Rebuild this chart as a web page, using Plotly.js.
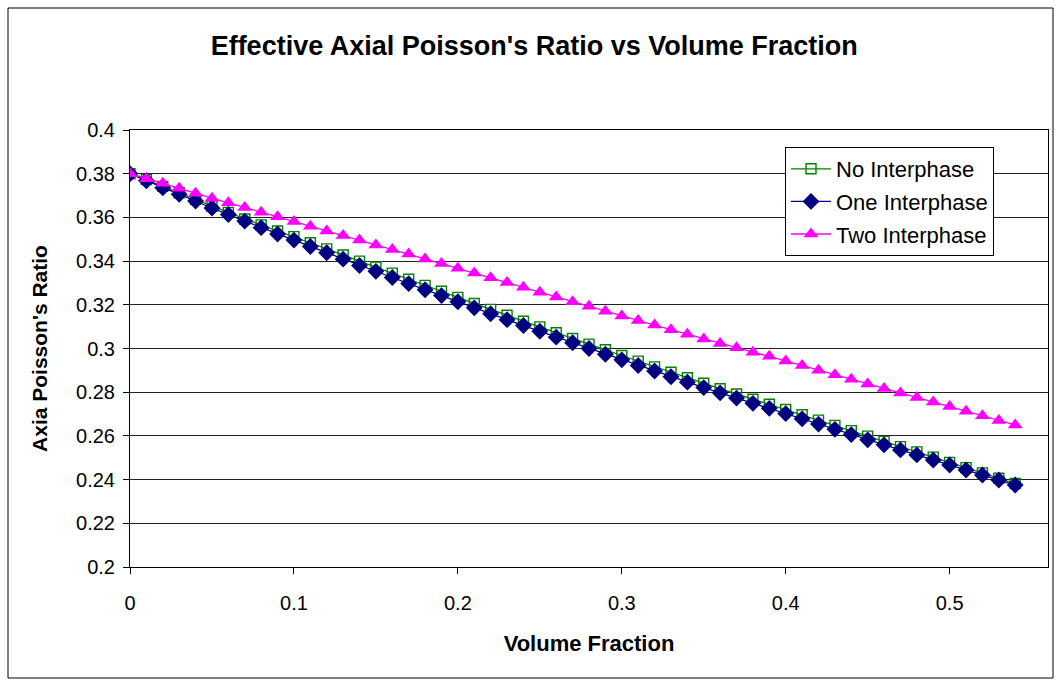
<!DOCTYPE html>
<html>
<head>
<meta charset="utf-8">
<script src="https://cdn.plot.ly/plotly-3.0.1.min.js"></script>
<style>html,body{margin:0;padding:0;background:#fff;}#chart{width:1062px;height:683px;}</style>
</head>
<body>
<div id="chart"></div>
<script>
const volumeFraction = [0,0.01,0.02,0.03,0.04,0.05,0.06,0.07,0.08,0.09,0.10,0.11,0.12,0.13,0.14,0.15,0.16,0.17,0.18,0.19,0.20,0.21,0.22,0.23,0.24,0.25,0.26,0.27,0.28,0.29,0.30,0.31,0.32,0.33,0.34,0.35,0.36,0.37,0.38,0.39,0.40,0.41,0.42,0.43,0.44,0.45,0.46,0.47,0.48,0.49,0.50,0.51,0.52,0.53,0.54];

const noInterphase = [0.3800,0.3773,0.3742,0.3713,0.3683,0.3652,0.3623,0.3593,0.3566,0.3538,0.3512,0.3484,0.3456,0.3428,0.3400,0.3373,0.3345,0.3317,0.3289,0.3262,0.3234,0.3206,0.3179,0.3152,0.3125,0.3099,0.3072,0.3046,0.3020,0.2994,0.2968,0.2942,0.2916,0.2891,0.2866,0.2841,0.2816,0.2792,0.2768,0.2745,0.2721,0.2697,0.2672,0.2648,0.2624,0.2599,0.2575,0.2551,0.2527,0.2503,0.2479,0.2455,0.2431,0.2406,0.2382];

const oneInterphase = [0.3800,0.3768,0.3736,0.3706,0.3675,0.3643,0.3613,0.3583,0.3553,0.3524,0.3496,0.3467,0.3438,0.3409,0.3380,0.3353,0.3325,0.3297,0.3269,0.3242,0.3214,0.3186,0.3159,0.3132,0.3105,0.3079,0.3052,0.3026,0.3000,0.2974,0.2948,0.2922,0.2897,0.2871,0.2846,0.2821,0.2797,0.2773,0.2749,0.2726,0.2702,0.2678,0.2654,0.2630,0.2606,0.2582,0.2559,0.2536,0.2513,0.2490,0.2467,0.2444,0.2421,0.2398,0.2375];

const twoInterphase = [0.3800,0.3777,0.3756,0.3733,0.3711,0.3688,0.3667,0.3645,0.3624,0.3603,0.3581,0.3560,0.3538,0.3517,0.3496,0.3474,0.3453,0.3432,0.3410,0.3389,0.3367,0.3345,0.3324,0.3302,0.3280,0.3258,0.3236,0.3214,0.3193,0.3171,0.3149,0.3128,0.3107,0.3086,0.3065,0.3044,0.3023,0.3003,0.2983,0.2964,0.2943,0.2922,0.2901,0.2880,0.2859,0.2838,0.2817,0.2796,0.2776,0.2755,0.2734,0.2713,0.2692,0.2671,0.2650];

const seriesNames = ["No Interphase", "One Interphase", "Two Interphase"];
const xTickVals = [0, 0.1, 0.2, 0.3, 0.4, 0.5];
const xTickText = ["0", "0.1", "0.2", "0.3", "0.4", "0.5"];
const yTickVals = [0.2, 0.22, 0.24, 0.26, 0.28, 0.3, 0.32, 0.34, 0.36, 0.38, 0.4];
const yTickText = ["0.2", "0.22", "0.24", "0.26", "0.28", "0.3", "0.32", "0.34", "0.36", "0.38", "0.4"];

const FONT = "Liberation Sans, Arial, sans-serif";

const traces = [
  {x: volumeFraction, y: noInterphase, name: seriesNames[0], type: "scatter", mode: "lines+markers",
   legendgroup: "a",
   line: {color: "#008000", width: 1.3},
   marker: {symbol: "square-open", size: 10, color: "#008000", line: {width: 1.4, color: "#008000"}}},
  {x: volumeFraction, y: oneInterphase, name: seriesNames[1], type: "scatter", mode: "lines+markers",
   legendgroup: "b",
   line: {color: "#000080", width: 1.3},
   marker: {symbol: "diamond", size: 13, color: "#000080"}},
  {x: volumeFraction, y: twoInterphase, name: seriesNames[2], type: "scatter", mode: "lines+markers",
   legendgroup: "c",
   line: {color: "#FF00FF", width: 1.3},
   marker: {symbol: "triangle-up", size: 13, color: "#FF00FF"}}
];

const layout = {
  width: 1062, height: 683,
  paper_bgcolor: "#ffffff", plot_bgcolor: "#ffffff",
  margin: {l: 130, r: 14, t: 130, b: 116},
  font: {family: FONT, color: "#000", size: 20},
  title: {text: "<b>Effective Axial Poisson's Ratio vs Volume Fraction</b>",
          font: {family: FONT, size: 27, color: "#000"},
          x: 0.503, xanchor: "center", y: 0.933, yanchor: "middle"},
  xaxis: {
    range: [0, 0.56], tickvals: xTickVals, ticktext: xTickText,
    showgrid: false, zeroline: false, showline: true, linecolor: "#000", linewidth: 1,
    mirror: true, ticks: "outside", ticklen: 6, tickcolor: "#000",
    tickfont: {family: FONT, size: 20}, ticklabelstandoff: 12,
    title: {text: "<b>Volume Fraction</b>", font: {family: FONT, size: 22}, standoff: 22}
  },
  yaxis: {
    range: [0.2, 0.4], tickvals: yTickVals, ticktext: yTickText,
    showgrid: true, gridcolor: "#222", gridwidth: 1, zeroline: false,
    showline: true, linecolor: "#000", linewidth: 1, mirror: true,
    ticks: "outside", ticklen: 6, tickcolor: "#000",
    tickfont: {family: FONT, size: 20}, ticklabelstandoff: 4,
    title: {text: "<b>Axia Poisson's Ratio</b>", font: {family: FONT, size: 21}, standoff: 22}
  },
  showlegend: true,
  legend: {
    x: (785 - 130) / 918, xanchor: "left",
    y: (567 - 147) / 437, yanchor: "top",
    bgcolor: "#ffffff", bordercolor: "#000", borderwidth: 1,
    font: {family: FONT, size: 22, color: "#000"},
    traceorder: "grouped", tracegroupgap: 1,
    itemwidth: 40
  },
  shapes: [
    {type: "rect", xref: "paper", yref: "paper",
     x0: (8 - 130) / 918, x1: (1053 - 130) / 918,
     y0: (567 - 678) / 437, y1: (567 - 8) / 437,
     line: {color: "#000", width: 1}, fillcolor: "rgba(0,0,0,0)", layer: "below"}
  ]
};

Plotly.newPlot("chart", traces, layout, {displayModeBar: false, staticPlot: true});
</script>
</body>
</html>
